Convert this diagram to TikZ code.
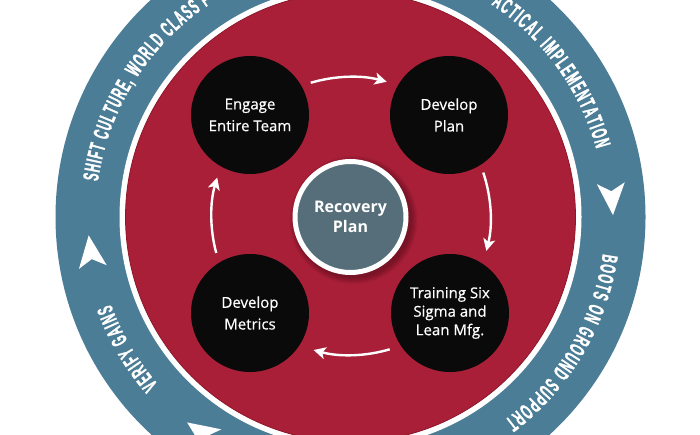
\documentclass[tikz,border=0pt]{standalone}
\usepackage{fontspec}
\setmainfont{Open Sans}
\newfontfamily\ringfam[FakeStretch=0.5,FakeBold=1.3]{Liberation Sans}
\newfontfamily\stagefam[FakeBold=0.5]{Open Sans}
\usetikzlibrary{arrows.meta,decorations.text,calc}
\definecolor{ringblue}{HTML}{4B7D96}
\definecolor{crimsonfill}{HTML}{A91F38}
\definecolor{crimsonedge}{HTML}{8E1629}
\definecolor{slatefill}{HTML}{566E7A}
\definecolor{nodeblack}{HTML}{0A0A0A}
\newcommand\ringfmt{\ringfam\bfseries\fontsize{22}{22}\selectfont\color{white}}
\newcommand\kitearrow[1]{%
  \fill[white, shift={($(C)+(#1:262)$)}, rotate=#1-90]
    (16,0) -- (-16,14) -- (-8,0) -- (-16,-14) -- cycle;}
\begin{document}
\begin{tikzpicture}[x=1pt,y=1pt,
  stage/.style={circle, fill=nodeblack, minimum size=118pt, inner sep=0pt,
    text=white, font=\stagefam\fontsize{15}{21.7}\selectfont, align=center},
  hub/.style={circle, fill=slatefill, draw=white, line width=5pt,
    minimum size=111pt, inner sep=0pt, text=white,
    font=\bfseries\fontsize{16}{20}\selectfont, align=center},
  flow/.style={white, line width=2.4pt,
    -{Stealth[length=12pt,width=12pt,inset=3pt]}},
  ringtext/.style={decorate, decoration={text along path,
    text align={fit to path}, text={#1}}}]
\useasboundingbox (0,0) rectangle (700,434);
\clip (0,0) rectangle (700,434);
\coordinate (C) at (350.5,217);
% rings
\fill[ringblue] (C) circle[radius=295];
\fill[white] (C) circle[radius=231];
\fill[crimsonfill, draw=crimsonedge, line width=0.8pt] (C) circle[radius=225];
% ring texts (baseline inside, tops outward, clockwise)
\path[ringtext={|\ringfmt|SHIFT CULTURE, WORLD CLASS P}]
  ($(C)+(172:255)$) arc[start angle=172, end angle=123, radius=255];
\path[ringtext={|\ringfmt|ACTICAL IMPLEMENTATION}]
  ($(C)+(56.5:255)$) arc[start angle=56.5, end angle=15.5, radius=255];
\path[ringtext={|\ringfmt|BOOTS ON GROUND SUPPORT}]
  ($(C)+(-8.3:255)$) arc[start angle=-8.3, end angle=-52.8, radius=255];
\path[ringtext={|\ringfmt|VERIFY GAINS}]
  ($(C)+(221:255)$) arc[start angle=221, end angle=200, radius=255];
% ring arrowheads
\kitearrow{3.9}
\kitearrow{187.5}
\kitearrow{235}
% shadow of hub
\foreach \k in {1,...,7}
  \fill[black, opacity=0.045] ($(C)+(3,-3)$) circle[radius=57+\k];
% nodes
\node[hub] (hub) at (C) {Recovery\\Plan};
\node[stage] (engage) at (250,319) {Engage\\Entire Team};
\node[stage] (plan) at (449,319) {Develop\\Plan};
\node[stage, font=\stagefam\fontsize{15}{18.5}\selectfont] (train) at (450,121)
  {Training Six\\Sigma and\\Lean Mfg.};
\node[stage] (metrics) at (250,121) {Develop\\Metrics};
% cycle arrows
\draw[flow] ($(C)+(106.5:140)$) arc[start angle=106.5, end angle=75, radius=140];
\draw[flow] ($(C)+(18.5:140)$) arc[start angle=18.5, end angle=-14, radius=140];
\draw[flow] ($(C)+(-73.5:138)$) arc[start angle=-73.5, end angle=-105.5, radius=138];
\draw[flow] ($(C)+(195:139)$) arc[start angle=195, end angle=163.5, radius=139];
\end{tikzpicture}
\end{document}
